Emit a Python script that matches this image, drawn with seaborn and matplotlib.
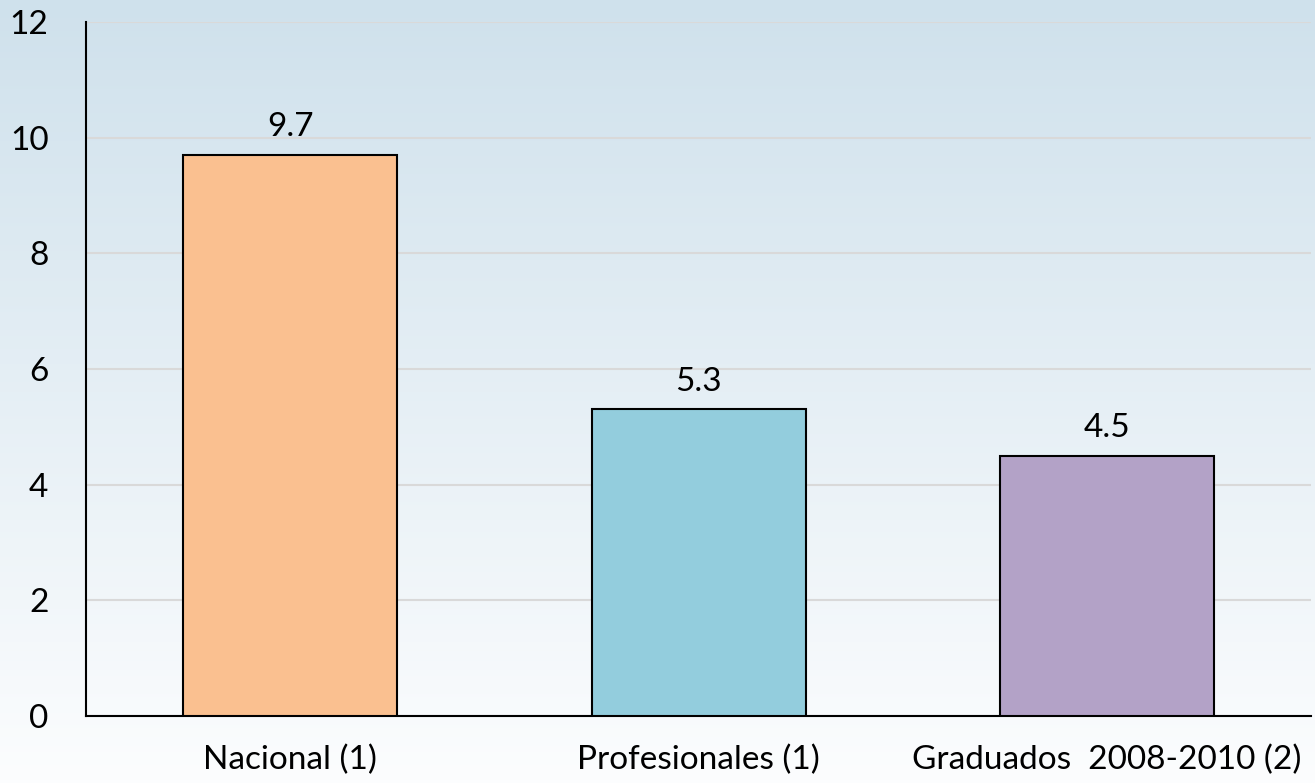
import numpy as np
import pandas as pd
import matplotlib.pyplot as plt
import seaborn as sns
from matplotlib.colors import LinearSegmentedColormap

categories = ["Nacional (1)", "Profesionales (1)", "Graduados  2008-2010 (2)"]
values = [9.7, 5.3, 4.5]
bar_colors = ["#FAC090", "#93CDDD", "#B3A2C7"]
y_ticks = [0, 2, 4, 6, 8, 10, 12]


def draw_chart():
    sns.set_theme(style="white")
    plt.rcParams["font.family"] = ["Lato", "DejaVu Sans"]

    fig = plt.figure(figsize=(13.15, 7.83), dpi=100)

    # gradient background over the whole figure
    bg = fig.add_axes([0, 0, 1, 1], zorder=0)
    cmap = LinearSegmentedColormap.from_list("bg", ["#FCFDFE", "#CFE1EC"])
    grad = np.linspace(0, 1, 256).reshape(-1, 1)
    bg.imshow(grad, aspect="auto", cmap=cmap, origin="lower", extent=[0, 1, 0, 1])
    bg.axis("off")

    ax = fig.add_axes([0.0654, 0.0856, 0.9316, 0.8864], zorder=1)
    ax.patch.set_alpha(0)

    df = pd.DataFrame({"cat": categories, "val": values})
    sns.barplot(data=df, x="cat", y="val", hue="cat", palette=bar_colors,
                legend=False, width=0.524, edgecolor="black", linewidth=1.5,
                saturation=1, ax=ax, zorder=3)

    ax.set_ylim(0, 12)
    ax.set_xlim(-0.5, 2.5)
    ax.set_yticks(y_ticks)
    ax.set_yticklabels([str(t) for t in y_ticks])
    ax.yaxis.grid(True, color="#D9D9D9", linewidth=1.5)
    ax.set_axisbelow(True)
    ax.tick_params(axis="both", length=0, labelsize=24, colors="black")
    ax.tick_params(axis="y", pad=27)
    ax.tick_params(axis="x", pad=21)
    ax.set_xlabel("")
    ax.set_ylabel("")

    for side in ["top", "right"]:
        ax.spines[side].set_visible(False)
    for side in ["left", "bottom"]:
        ax.spines[side].set_color("black")
        ax.spines[side].set_linewidth(1.5)

    for i, v in enumerate(values):
        ax.annotate(f"{v}", (i, v), xytext=(0, 9), textcoords="offset points",
                    ha="center", va="bottom", fontsize=24, color="black")

    fig.savefig("out.png", dpi=100)


if __name__ == "__main__":
    draw_chart()
